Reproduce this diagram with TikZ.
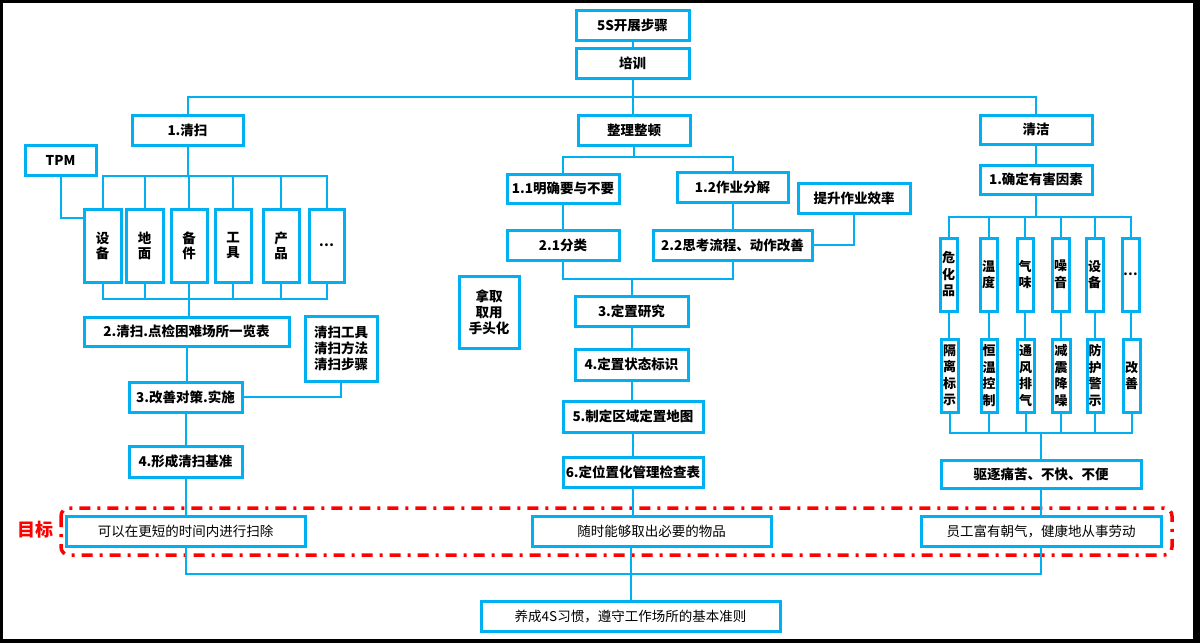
\documentclass[tikz,border=0pt]{standalone}
\usepackage{fontspec}
\setmainfont{Noto Sans CJK SC}
\usetikzlibrary{calc}
\definecolor{bl}{RGB}{0,176,240}
\definecolor{rd}{RGB}{255,0,0}
\newcommand\mybox[7]{%
  \pgfmathsetmacro\mycx{(#3+#5)/2}%
  \pgfmathsetmacro\mycy{(#4+#6)/2}%
  \pgfmathsetmacro\myww{#5-#3}%
  \pgfmathsetmacro\myhh{#6-#4}%
  \node[#1, minimum width=\myww pt, minimum height=\myhh pt] (#2) at (\mycx,\mycy) {#7};}
\begin{document}
\begin{tikzpicture}[x=1pt,y=-1pt,
  bx/.style={draw=bl, line width=3pt, inner sep=0pt, outer sep=0pt, fill=white,
    font=\fontsize{13.5}{15}\selectfont\bfseries, align=center},
  vbx/.style={bx, font=\fontsize{13.5}{15}\selectfont\bfseries},
  nbx/.style={bx, font=\fontsize{13}{16.5}\selectfont\bfseries},
  mbx/.style={bx, font=\fontsize{13.5}{16}\selectfont\bfseries},
  gbx/.style={bx, font=\fontsize{13.5}{15}\selectfont},
  conn/.style={draw=bl, line width=2pt},
  goal/.style={draw=rd, line width=3.5pt, rounded corners=8pt,
    dash pattern=on 11pt off 7pt on 3pt off 7pt},
]
\useasboundingbox (0,0) rectangle (1200,643);
\fill[black] (0,0) rectangle (1200,643);
\fill[white] (3,3) rectangle (1193,639);

% goal frame
\draw[goal] (61,508) rectangle (1172,555);
\node[text=rd, font=\fontsize{18}{20}\selectfont\bfseries] (mb) at (35,530) {目标};

% top
\mybox{bx}{s5}{576}{10}{689}{40}{5S开展步骤}
\mybox{bx}{px}{576}{48}{689}{78}{培训}
\mybox{bx}{qs}{132}{115}{243}{145}{1.清扫}
\mybox{bx}{zl}{578}{115}{690}{145}{整理整顿}
\mybox{bx}{qj}{980}{115}{1092}{144}{清洁}

% left column
\mybox{bx}{tpm}{25}{145}{96}{175}{TPM}
\mybox{vbx}{sb}{84}{209}{121}{282}{设\\备}
\mybox{vbx}{dm}{126}{209}{163}{282}{地\\面}
\mybox{vbx}{bj}{171}{209}{207}{282}{备\\件}
\mybox{vbx}{gj}{215}{209}{251}{282}{工\\具}
\mybox{vbx}{cp}{263}{209}{299}{282}{产\\品}
\mybox{vbx}{et}{309}{209}{344}{282}{…}
\mybox{bx}{qsd}{84}{317}{289}{346}{2.清扫.点检困难场所一览表}
\mybox{mbx}{qsgj}{305}{316}{377}{381}{清扫工具\\清扫方法\\清扫步骤}
\mybox{bx}{gs}{129}{382}{242}{412}{3.改善对策.实施}
\mybox{bx}{xc}{129}{446}{242}{477}{4.形成清扫基准}

% middle column
\mybox{bx}{m11}{507}{174}{619}{203}{1.1明确要与不要}
\mybox{bx}{m12}{677}{172}{788}{202}{1.2作业分解}
\mybox{bx}{ts}{798}{183}{910}{213}{提升作业效率}
\mybox{bx}{m21}{507}{230}{619}{260}{2.1分类}
\mybox{bx}{m22}{653}{230}{812}{260}{2.2思考流程、动作改善}
\mybox{mbx}{nq}{459}{276}{519}{348}{拿取\\取用\\手头化}
\mybox{bx}{d3}{575}{296}{688}{326}{3.定置研究}
\mybox{bx}{d4}{575}{349}{688}{380}{4.定置状态标识}
\mybox{bx}{d5}{563}{401}{703}{432}{5.制定区域定置地图}
\mybox{bx}{d6}{563}{457}{703}{487}{6.定位置化管理检查表}

% right column
\mybox{bx}{qd}{980}{165}{1092}{194}{1.确定有害因素}
\mybox{nbx}{r1}{940}{238}{957}{311}{危\\化\\品}
\mybox{nbx}{r2}{980}{238}{997}{311}{温\\度}
\mybox{nbx}{r3}{1017}{238}{1033}{311}{气\\味}
\mybox{nbx}{r4}{1052}{238}{1069}{311}{噪\\音}
\mybox{nbx}{r5}{1086}{238}{1103}{311}{设\\备}
\mybox{nbx}{r6}{1122}{238}{1139}{311}{…}
\mybox{nbx}{t1}{941}{339}{958}{412}{隔\\离\\标\\示}
\mybox{nbx}{t2}{981}{339}{997}{412}{恒\\温\\控\\制}
\mybox{nbx}{t3}{1017}{339}{1034}{412}{通\\风\\排\\气}
\mybox{nbx}{t4}{1052}{339}{1070}{412}{减\\震\\降\\噪}
\mybox{nbx}{t5}{1087}{339}{1103}{412}{防\\护\\警\\示}
\mybox{nbx}{t6}{1123}{339}{1140}{412}{改\\善}
\mybox{bx}{qz}{941}{460}{1141}{488}{驱逐痛苦、不快、不便}

% goals and final
\mybox{gbx}{ky}{66}{516}{305}{546}{可以在更短的时间内进行扫除}
\mybox{gbx}{ss}{532}{516}{771}{546}{随时能够取出必要的物品}
\mybox{gbx}{yg}{921}{516}{1161}{546}{员工富有朝气，健康地从事劳动}
\mybox{gbx}{yc}{481}{601}{780}{631}{养成4S习惯，遵守工作场所的基本准则}

% bus coordinates
\coordinate (b1) at (0,97);
\coordinate (b2) at (0,176);
\coordinate (b3) at (0,299);
\coordinate (b5) at (0,157);
\coordinate (b6) at (0,279);
\coordinate (b7) at (0,217);
\coordinate (b8) at (0,433);
\coordinate (b9) at (0,574);

% connectors top
\draw[conn] (s5.south) -- (px.north);
\draw[conn] (px.south) -- (px.south |- zl.north);
\draw[conn] (qs.north) -- (qs.north |- b1) -| (qj.north);

% left connectors
\draw[conn] (qs.south) -- (qs.south |- b2);
\draw[conn] (sb.north) -- (sb.north |- b2) -- (et.north |- b2) -- (et.north);
\foreach \n in {dm,bj,gj,cp} \draw[conn] (\n.north) -- (\n.north |- b2);
\draw[conn] (tpm.south) |- ([yshift=-9pt]sb.north west);
\draw[conn] (sb.south) -- (sb.south |- b3) -- (et.south |- b3) -- (et.south);
\foreach \n in {dm,bj,gj,cp} \draw[conn] (\n.south) -- (\n.south |- b3);
\draw[conn] (bj.south |- b3) -- (bj.south |- qsd.north);
\draw[conn] (qsd.south) -- (qsd.south |- gs.north);
\draw[conn] (qsgj.south) |- (gs.east);
\draw[conn] (gs.south) -- (gs.south |- xc.north);
\draw[conn] (xc.south) -- (xc.south |- ky.north);

% middle connectors
\draw[conn] (zl.south) -- (zl.south |- b5);
\draw[conn] (m11.north) -- (m11.north |- b5) -| (m12.north);
\draw[conn] (m11.south) -- (m21.north);
\draw[conn] (m12.south) -- (m12.south |- m22.north);
\draw[conn] (ts.south) |- (m22.east);
\draw[conn] (m21.south) -- (m21.south |- b6) -| (m22.south);
\draw[conn] (d3.north |- b6) -- (d3.north);
\draw[conn] (d3.south) -- (d4.north);
\draw[conn] (d4.south) -- (d4.south |- d5.north);
\draw[conn] (d5.south) -- (d6.north);
\draw[conn] (d6.south) -- (d6.south |- ss.north);

% right connectors
\draw[conn] (qj.south) -- (qd.north);
\draw[conn] (qd.south) -- (qd.south |- b7);
\draw[conn] (r1.north) -- (r1.north |- b7) -- (r6.north |- b7) -- (r6.north);
\foreach \n in {r2,r3,r4,r5} \draw[conn] (\n.north) -- (\n.north |- b7);
\foreach \a/\b in {r1/t1,r2/t2,r3/t3,r4/t4,r5/t5,r6/t6} \draw[conn] (\a.south) -- (\a.south |- \b.north);
\draw[conn] (t1.south) -- (t1.south |- b8) -- (t6.south |- b8) -- (t6.south);
\foreach \n in {t2,t3,t4,t5} \draw[conn] (\n.south) -- (\n.south |- b8);
\draw[conn] (qz.north |- b8) -- (qz.north);
\draw[conn] (qz.south) -- (qz.south |- yg.north);

% bottom connectors
\draw[conn] (ky.south) -- (ky.south |- b9) -| (yg.south);
\draw[conn] (yc.north |- ss.south) -- (yc.north);
\end{tikzpicture}
\end{document}
